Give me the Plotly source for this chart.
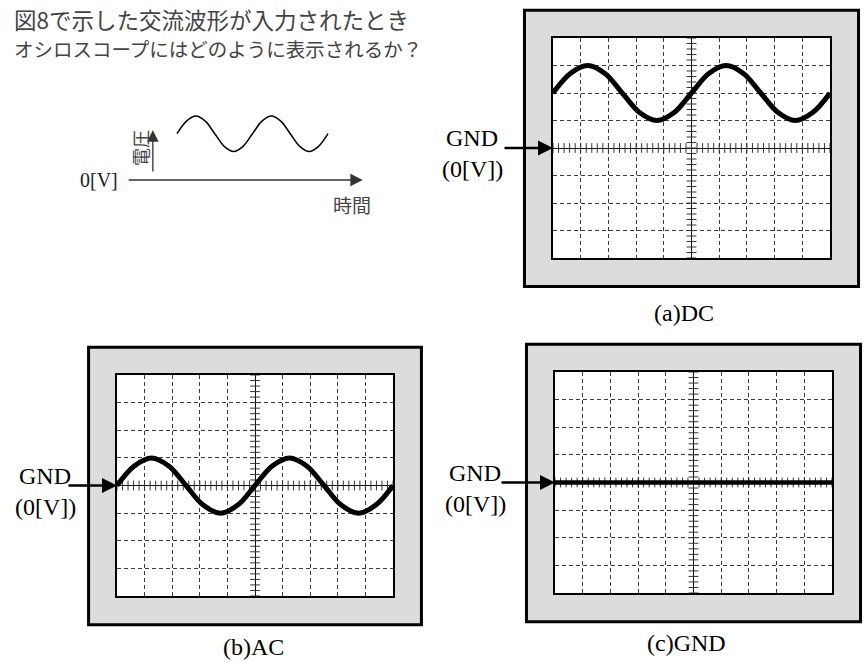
import numpy as np
import plotly.graph_objects as go

W, H = 866, 662

# waveform values in screen divisions (x: 10 div, y: 8 div), read every 1/8 period
time_div = [-5, -4.375, -3.75, -3.125, -2.5, -1.875, -1.25, -0.625, 0,
            0.625, 1.25, 1.875, 2.5, 3.125, 3.75, 4.375, 5]
dc_volts_div = [2, 2.71, 3, 2.71, 2, 1.29, 1, 1.29, 2,
                2.71, 3, 2.71, 2, 1.29, 1, 1.29, 2]
ac_volts_div = [0, 0.71, 1, 0.71, 0, -0.71, -1, -0.71, 0,
                0.71, 1, 0.71, 0, -0.71, -1, -0.71, 0]
gnd_volts_div = [0, 0, 0, 0, 0, 0, 0, 0, 0,
                 0, 0, 0, 0, 0, 0, 0, 0]

panel_labels = ["(a)DC", "(b)AC", "(c)GND"]
gnd_text = "GND"
zero_text = "(0[V])"

# small input-waveform sketch (time in periods, voltage in amplitudes)
sketch_time = [0, 0.125, 0.25, 0.375, 0.5, 0.625, 0.75, 0.875, 1,
               1.125, 1.25, 1.375, 1.5, 1.625, 1.75, 1.875, 2]
sketch_volts = [2.6, 3.31, 3.6, 3.31, 2.6, 1.89, 1.6, 1.89, 2.6,
                3.31, 3.6, 3.31, 2.6, 1.89, 1.6, 1.89, 2.6]
sketch_v_label = "電圧"
sketch_t_label = "時間"
sketch_zero_label = "0[V]"

title_lines = ["図8で示した交流波形が入力されたとき",
               "オシロスコープにはどのように表示されるか？"]


def fx(px):
    return px / W


def fy(py):
    return 1 - py / H


# screen boxes in pixels (left, top, right, bottom) and label placement
scopes = [
    dict(s="", box=(553, 38, 830, 258), volts=dc_volts_div, gnd_x=472, label=(684, 313), arrow=50, lw=5),
    dict(s="2", box=(117, 375, 393, 596), volts=ac_volts_div, gnd_x=45, label=(253, 647), arrow=50, lw=5),
    dict(s="3", box=(555, 372, 832, 593), volts=gnd_volts_div, gnd_x=475, label=(686, 643), arrow=55, lw=4.5),
]

serif = "Liberation Serif, Times New Roman, serif"
gothic = "Noto Sans CJK JP, sans-serif"

fig = go.Figure()
layout = dict(width=W, height=H, margin=dict(l=0, r=0, t=0, b=0),
              paper_bgcolor="white", plot_bgcolor="white", showlegend=False)
shapes = []
annotations = []

minor_x = np.round(np.arange(-5, 5.001, 0.2), 3)
minor_y = np.round(np.arange(-4, 4.001, 0.2), 3)

for sc, name in zip(scopes, panel_labels):
    s = sc["s"]
    x0, y0, x1, y1 = sc["box"]
    yc = (y0 + y1) / 2
    axis_common = dict(showgrid=True, gridcolor="#3c3c3c", gridwidth=1, griddash="4px,3px",
                       zeroline=True, zerolinecolor="#111", zerolinewidth=1.2,
                       showline=True, linecolor="black", linewidth=1.5, mirror=True,
                       showticklabels=False, ticks="", fixedrange=True, tick0=0, dtick=1)
    layout["xaxis" + s] = dict(domain=[fx(x0), fx(x1)], range=[-5, 5], anchor="y" + s, **axis_common)
    layout["yaxis" + s] = dict(domain=[fy(y1), fy(y0)], range=[-4, 4], anchor="x" + s, **axis_common)

    xa, ya = "x" + s, "y" + s
    shapes.append(dict(type="rect", xref=xa + " domain", yref=ya + " domain",
                       x0=-0.103, x1=1.103, y0=-0.13, y1=1.126,
                       fillcolor="#dcdcdc", line=dict(color="black", width=3), layer="below"))
    shapes.append(dict(type="rect", xref=xa + " domain", yref=ya + " domain",
                       x0=0, x1=1, y0=0, y1=1,
                       fillcolor="white", line=dict(width=0), layer="below"))

    # graticule ticks on the centre lines
    fig.add_trace(go.Scatter(x=minor_x, y=np.zeros_like(minor_x), xaxis=xa, yaxis=ya, mode="markers",
                             marker=dict(symbol="line-ns", size=7, line=dict(width=1, color="#333")),
                             hoverinfo="skip"))
    fig.add_trace(go.Scatter(x=np.zeros_like(minor_y), y=minor_y, xaxis=xa, yaxis=ya, mode="markers",
                             marker=dict(symbol="line-ew", size=7, line=dict(width=1, color="#333")),
                             hoverinfo="skip"))
    # displayed waveform
    fig.add_trace(go.Scatter(x=time_div, y=sc["volts"], xaxis=xa, yaxis=ya, mode="lines",
                             line=dict(color="black", width=sc["lw"], shape="spline", smoothing=1),
                             cliponaxis=False, hoverinfo="skip"))

    annotations.append(dict(xref=xa, yref=ya, x=-5, y=0, ax=-sc["arrow"], ay=0, text="",
                            showarrow=True, arrowhead=2, arrowsize=1.2, arrowwidth=2.5,
                            arrowcolor="black", standoff=0))
    annotations.append(dict(xref="paper", yref="paper", x=fx(sc["gnd_x"]), y=fy(yc - 10),
                            text=gnd_text, showarrow=False, xanchor="center", yanchor="middle",
                            font=dict(family=serif, size=24, color="black")))
    annotations.append(dict(xref="paper", yref="paper", x=fx(sc["gnd_x"]), y=fy(yc + 21),
                            text=zero_text, showarrow=False, xanchor="center", yanchor="middle",
                            font=dict(family=serif, size=24, color="black")))
    annotations.append(dict(xref="paper", yref="paper", x=fx(sc["label"][0]), y=fy(sc["label"][1]),
                            text=name, showarrow=False, xanchor="center", yanchor="middle",
                            font=dict(family=serif, size=24, color="black")))

# input waveform sketch
layout["xaxis4"] = dict(domain=[fx(101.5), fx(403.5)], range=[-1, 3], anchor="y4", visible=False,
                        fixedrange=True)
layout["yaxis4"] = dict(domain=[fy(197.8), fy(108.8)], range=[-1, 4], anchor="x4", visible=False,
                        fixedrange=True)
fig.add_trace(go.Scatter(x=sketch_time, y=sketch_volts, xaxis="x4", yaxis="y4", mode="lines",
                         line=dict(color="black", width=1.5, shape="spline", smoothing=1),
                         cliponaxis=False, hoverinfo="skip"))
annotations.append(dict(xref="x4", yref="y4", axref="x4", ayref="y4", x=2.46, y=0, ax=-0.66, ay=0,
                        text="", showarrow=True, arrowhead=2, arrowsize=1.9, arrowwidth=1.3,
                        arrowcolor="#333", standoff=0))
annotations.append(dict(xref="x4", yref="y4", axref="x4", ayref="y4", x=-0.32, y=2.8, ax=-0.32, ay=0.4,
                        text="", showarrow=True, arrowhead=2, arrowsize=1.8, arrowwidth=1.3,
                        arrowcolor="#333", standoff=0))
annotations.append(dict(xref="paper", yref="paper", x=fx(99), y=fy(180), text=sketch_zero_label,
                        showarrow=False, xanchor="center", yanchor="middle",
                        font=dict(family=serif, size=20, color="#222")))
annotations.append(dict(xref="paper", yref="paper", x=fx(140), y=fy(148), text=sketch_v_label,
                        textangle=-90, showarrow=False, xanchor="center", yanchor="middle",
                        font=dict(family=gothic, size=18, color="#444")))
annotations.append(dict(xref="paper", yref="paper", x=fx(352), y=fy(204), text=sketch_t_label,
                        showarrow=False, xanchor="center", yanchor="middle",
                        font=dict(family=gothic, size=19, color="#444")))

# question text
annotations.append(dict(xref="paper", yref="paper", x=fx(12), y=fy(19), text=title_lines[0],
                        showarrow=False, xanchor="left", yanchor="middle",
                        font=dict(family=gothic, size=22.5, color="#444")))
annotations.append(dict(xref="paper", yref="paper", x=fx(12), y=fy(48), text=title_lines[1],
                        showarrow=False, xanchor="left", yanchor="middle",
                        font=dict(family=gothic, size=19.5, color="#444")))

layout["shapes"] = shapes
layout["annotations"] = annotations
fig.update_layout(**layout)

fig.write_html("out.html", config={"displayModeBar": False},
               post_script="document.body.style.margin='0';")
